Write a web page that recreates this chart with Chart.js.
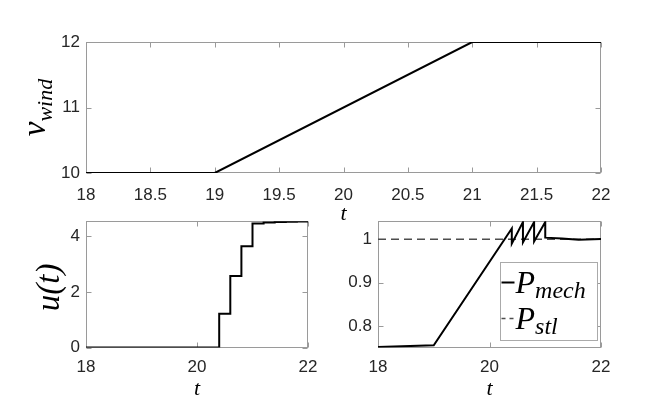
<!DOCTYPE html>
<html><head><meta charset="utf-8">
<script src="https://cdn.jsdelivr.net/npm/chart.js@4/dist/chart.umd.min.js"></script>
<style>
html,body{margin:0;padding:0;background:#fff;}
#wrap{position:relative;width:664px;height:401px;overflow:hidden;background:#fff;}
canvas{position:absolute;}
</style></head><body>
<div id="wrap">
<canvas id="cTop" width="664" height="228" style="left:0;top:0"></canvas>
<canvas id="cU" width="330" height="196" style="left:0;top:205px"></canvas>
<canvas id="cP" width="334" height="196" style="left:330px;top:205px"></canvas>
</div>
<script>
// ---------- data ----------
const windT = [18, 19, 21, 22];
const windV = [10, 10, 12, 12];

const uT = [18, 20.4, 20.6, 20.8, 21.0, 21.2, 21.4, 21.6, 21.8, 22];
const uV = [0, 1.22, 2.58, 3.65, 4.47, 4.50, 4.52, 4.53, 4.54, 4.54];

const pMechT = [18, 19, 20.4, 20.4, 20.6, 20.6, 20.8, 20.8, 21.0, 21.0, 21.3, 21.6, 22];
const pMechV = [0.751, 0.755, 1.025, 0.99, 1.04, 0.993, 1.04, 0.995, 1.04, 1.004, 1.002, 0.999, 1.001];

const pStlT = [18, 22];
const pStlV = [1, 1];

const topXTicks = [18, 18.5, 19, 19.5, 20, 20.5, 21, 21.5, 22];
const topYTicks = [10, 11, 12];
const botXTicks = [18, 20, 22];
const uYTicks = [0, 2, 4];
const pYTicks = [0.8, 0.9, 1];

const legendLabels = [['P', 'mech'], ['P', 'stl']];

// ---------- helpers ----------
const AXIS = '#9a9a9a';
const TICKTXT = '#262626';
const tickFont = { family: '"Liberation Sans", Arial, sans-serif', size: 17 };
const pts = (xs, ys) => xs.map((x, i) => ({ x: x, y: ys[i] }));

function drawMath(ctx, parts, x, y, rot, align) {
  ctx.save();
  ctx.translate(x, y);
  if (rot) ctx.rotate(rot);
  let w = 0;
  parts.forEach(p => {
    ctx.font = 'italic ' + p.size + 'px "Liberation Serif", "Times New Roman", serif';
    p.w = ctx.measureText(p.t).width;
    w += p.w;
  });
  let cx = align === 'left' ? 0 : -w / 2;
  ctx.fillStyle = '#000';
  ctx.textBaseline = 'alphabetic';
  ctx.textAlign = 'left';
  parts.forEach(p => {
    ctx.font = 'italic ' + p.size + 'px "Liberation Serif", "Times New Roman", serif';
    ctx.fillText(p.t, cx, p.dy || 0);
    cx += p.w;
  });
  ctx.restore();
}

function framePlugin(extra) {
  return {
    id: 'frame',
    beforeDatasetsDraw(chart) {
      const { ctx, chartArea: a, scales } = chart;
      const L = Math.round(a.left) + 0.5, R = Math.round(a.right) - 0.5;
      const T = Math.round(a.top) + 0.5, B = Math.round(a.bottom) - 0.5;
      ctx.save();
      ctx.strokeStyle = AXIS;
      ctx.lineWidth = 1;
      ctx.strokeRect(L, T, R - L, B - T);
      ctx.beginPath();
      scales.x.ticks.forEach(t => {
        const px = Math.round(scales.x.getPixelForValue(t.value)) + 0.5;
        ctx.moveTo(px, B); ctx.lineTo(px, B - 5);
        ctx.moveTo(px, T); ctx.lineTo(px, T + 5);
      });
      scales.y.ticks.forEach(t => {
        const py = Math.round(scales.y.getPixelForValue(t.value)) + 0.5;
        ctx.moveTo(L, py); ctx.lineTo(L + 5, py);
        ctx.moveTo(R, py); ctx.lineTo(R - 5, py);
      });
      ctx.stroke();
      ctx.restore();
    },
    afterDraw(chart) {
      if (extra) extra(chart);
    }
  };
}

function makeChart(id, datasets, cfg) {
  return new Chart(document.getElementById(id), {
    type: 'line',
    data: { datasets: datasets },
    options: {
      animation: false,
      responsive: false,
      devicePixelRatio: 1,
      layout: { padding: { top: cfg.padTop, right: cfg.padRight, left: 0, bottom: 0 } },
      plugins: { legend: { display: false }, tooltip: { enabled: false } },
      elements: { point: { radius: 0 } },
      scales: {
        x: {
          type: 'linear', min: cfg.xMin, max: cfg.xMax,
          afterBuildTicks: s => { s.ticks = cfg.xTicks.map(v => ({ value: v })); },
          afterFit: s => { s.height = cfg.xH; },
          grid: { display: false, drawTicks: false },
          border: { display: false },
          ticks: { font: tickFont, color: TICKTXT, padding: cfg.xPad, maxRotation: 0, autoSkip: false, callback: v => String(v) }
        },
        y: {
          type: 'linear', min: cfg.yMin, max: cfg.yMax,
          afterBuildTicks: s => { s.ticks = cfg.yTicks.map(v => ({ value: v })); },
          afterFit: s => { s.width = cfg.yW; },
          grid: { display: false, drawTicks: false },
          border: { display: false },
          ticks: { font: tickFont, color: TICKTXT, padding: 6, autoSkip: false, callback: v => String(v) }
        }
      }
    },
    plugins: [framePlugin(cfg.extra)]
  });
}

// ---------- top: v_wind ----------
makeChart('cTop', [{
  data: pts(windT, windV), borderColor: '#000', borderWidth: 2, fill: false, tension: 0
}], {
  padTop: 42, padRight: 63, xH: 228 - 173, yW: 86, xPad: 12,
  xMin: 18, xMax: 22, yMin: 10, yMax: 12, xTicks: topXTicks, yTicks: topYTicks,
  extra: chart => {
    const a = chart.chartArea, ctx = chart.ctx;
    drawMath(ctx, [{ t: 't', size: 22 }], (a.left + a.right) / 2, a.bottom + 47);
    drawMath(ctx, [{ t: 'v', size: 33 }, { t: 'wind', size: 22, dy: 7 }], a.left - 41, (a.top + a.bottom) / 2, -Math.PI / 2);
  }
});

// ---------- bottom-left: u(t) ----------
makeChart('cU', [{
  data: pts(uT, uV), borderColor: '#000', borderWidth: 2, fill: false, stepped: true
}], {
  padTop: 14.5, padRight: 22, xH: 196 - 142.5, yW: 86, xPad: 10,
  xMin: 18, xMax: 22, yMin: 0, yMax: 4.55, xTicks: botXTicks, yTicks: uYTicks,
  extra: chart => {
    const a = chart.chartArea, ctx = chart.ctx;
    drawMath(ctx, [{ t: 't', size: 22 }], (a.left + a.right) / 2, a.bottom + 47);
    drawMath(ctx, [{ t: 'u(t)', size: 33 }], a.left - 27, (a.top + a.bottom) / 2 + 3, -Math.PI / 2);
  }
});

// ---------- bottom-right: P ----------
makeChart('cP', [
  { data: pts(pMechT, pMechV), borderColor: '#000', borderWidth: 2, fill: false, tension: 0 },
  { data: pts(pStlT, pStlV), borderColor: '#4d4d4d', borderWidth: 1.5, borderDash: [8, 5], fill: false }
], {
  padTop: 14.5, padRight: 63, xH: 196 - 142.5, yW: 48, xPad: 10,
  xMin: 18, xMax: 22, yMin: 0.75, yMax: 1.042, xTicks: botXTicks, yTicks: pYTicks,
  extra: chart => {
    const a = chart.chartArea, ctx = chart.ctx;
    drawMath(ctx, [{ t: 't', size: 22 }], (a.left + a.right) / 2, a.bottom + 47);
    // legend box
    const bl = Math.round(a.right - 101) + 0.5, br = Math.round(a.right - 4) + 0.5;
    const bt = Math.round(a.top + 41) + 0.5, bb = Math.round(a.bottom - 8) + 0.5;
    ctx.save();
    ctx.fillStyle = '#fff';
    ctx.fillRect(bl, bt, br - bl, bb - bt);
    ctx.strokeStyle = '#aaaaaa'; ctx.lineWidth = 1;
    ctx.strokeRect(bl, bt, br - bl, bb - bt);
    const ds = chart.data.datasets;
    const rows = [bt + 20, bt + 56];
    rows.forEach((ry, i) => {
      ctx.beginPath();
      ctx.strokeStyle = ds[i].borderColor;
      ctx.lineWidth = ds[i].borderWidth;
      ctx.setLineDash(i === 1 ? [4, 4] : []);
      ctx.moveTo(bl + 1, ry); ctx.lineTo(bl + 14, ry);
      ctx.stroke();
      ctx.setLineDash([]);
      drawMath(ctx, [{ t: legendLabels[i][0], size: 32 }, { t: legendLabels[i][1], size: 24, dy: 5 }], bl + 15, ry + 10, 0, 'left');
    });
    ctx.restore();
  }
});
</script>
</body></html>
